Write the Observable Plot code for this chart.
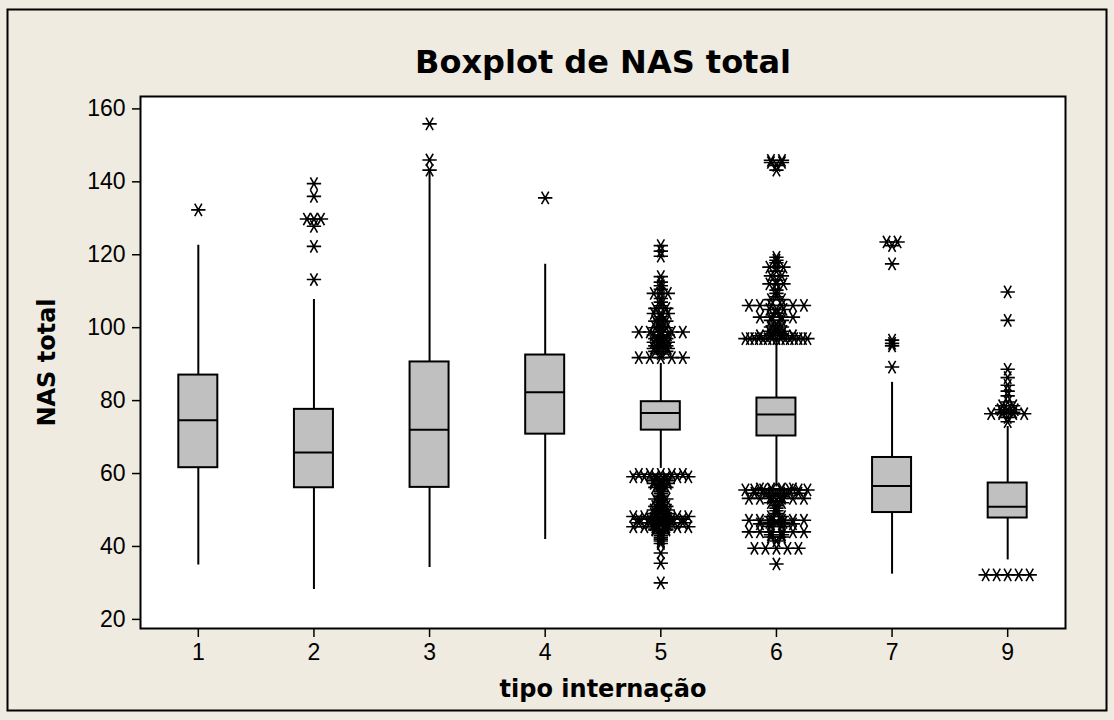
<!DOCTYPE html>
<html><head><meta charset="utf-8">
<script src="https://cdn.jsdelivr.net/npm/d3@7"></script>
<script src="https://cdn.jsdelivr.net/npm/@observablehq/plot@0.6"></script>
<style>body{margin:0;background:#efebe0;overflow:hidden;}</style>
</head><body><div id="chart"></div>
<script>
const groups = ["1", "2", "3", "4", "5", "6", "7", "9"];
const q1 = [61.6, 56.1, 56.2, 70.8, 71.9, 70.3, 49.3, 47.8];
const median = [74.6, 65.8, 72.0, 82.3, 76.6, 76.2, 56.6, 50.9];
const q3 = [87.0, 77.6, 90.6, 92.5, 79.7, 80.7, 64.4, 57.4];
const whiskerLow = [34.9, 28.2, 34.2, 41.9, 61.4, 56.3, 32.4, 36.3];
const whiskerHigh = [122.6, 107.7, 142.8, 117.4, 90.2, 97.0, 85.0, 72.9];

// outliers per group: [value, number of identical values]
const outliers1 = [[132.3, 1]];
const outliers2 = [[139.5, 1], [136, 1], [129.8, 3], [127.8, 1], [122.3, 1], [113.2, 1]];
const outliers3 = [[155.9, 1], [146, 1], [143.2, 1]];
const outliers4 = [[135.6, 1]];
const outliers5 = [
  [122.5, 1], [121, 1], [119.6, 1], [114, 1], [112.5, 1], [111.5, 1], [110.5, 1], [109.4, 3], [108, 1],
  [107, 1], [106, 1], [105.3, 2], [103.9, 3], [103, 1], [102.4, 1], [101.8, 2], [101, 1], [100.4, 1],
  [100, 2], [99.5, 1], [98.8, 5], [98, 3], [97.4, 1], [97, 2], [96.5, 1], [96, 3], [95.4, 1], [95, 2],
  [94.3, 3], [93.5, 2], [92.8, 1], [91.8, 5],
  [59.8, 5], [59.1, 6], [58.5, 2], [58, 3], [57.3, 3], [56.8, 1], [56.2, 2], [55.5, 1], [55, 1],
  [54.5, 1], [53.8, 1], [53, 2], [52.5, 1], [52, 1], [51.5, 1], [51, 2], [50.5, 1], [50, 3], [49.5, 1],
  [49, 3], [48.2, 6], [47.8, 3], [47.5, 5], [47, 3], [46.5, 5], [46, 3], [45.4, 6], [44.8, 2], [44.5, 2],
  [44, 1], [43.5, 1], [43, 1], [42.5, 1], [42, 1], [41.5, 1], [40.8, 1], [38.2, 1], [35.4, 1], [30, 1]
];
const outliers6 = [
  [145.9, 2], [145.3, 2], [144.5, 1], [143.2, 1], [119.3, 1], [118.5, 1], [117.8, 1], [116.6, 3], [115.5, 1],
  [114.2, 2], [113, 1], [112, 3], [110.3, 1], [109.4, 1], [108.5, 1], [107.7, 2], [106.1, 6], [105, 3],
  [104, 1], [102.9, 4], [102, 2], [101, 1], [100.2, 2], [99.5, 1], [99, 3], [98.3, 2], [97.8, 4], [97, 15],
  [55.8, 4], [55.5, 8], [54.6, 5], [53.8, 2], [53.2, 6], [52.5, 1], [52, 2], [51.2, 1], [50.5, 1],
  [49.8, 1], [49, 1], [48.2, 2], [47.2, 6], [46.6, 3], [46.2, 4], [45.5, 2], [44, 6], [43.2, 2],
  [42.6, 2], [41.5, 1], [39.5, 5], [35.2, 1]
];
const outliers7 = [[123.5, 2], [122.5, 1], [117.5, 1], [96.6, 1], [95.7, 1], [95, 1], [89.2, 1]];
const outliers9 = [
  [109.8, 1], [102, 1], [88.6, 1], [86.3, 1], [84.2, 1], [82.6, 1], [81.3, 1], [79.6, 1],
  [78.6, 2], [77.5, 3], [76.8, 2], [76.4, 4], [75.4, 1], [74.2, 1], [32.2, 5]
];
const outlierLists = [outliers1, outliers2, outliers3, outliers4, outliers5, outliers6, outliers7, outliers9];
const yTicks = [20, 40, 60, 80, 100, 120, 140, 160];

const W = 1114, H = 720;
const mLeft = 140, mRight = 49, mTop = 96, mBottom = 92;
const unitPx = (W - mLeft - mRight) / 8;
const halfBox = 19.5 / unitPx;

const boxes = groups.map((g, i) => ({i, q1: q1[i], med: median[i], q3: q3[i], lo: whiskerLow[i], hi: whiskerHigh[i]}));
const pts = [];
outlierLists.forEach((list, i) => {
  list.forEach(([v, n]) => {
    const step = n === 1 ? 0 : n === 3 ? 7 : Math.min(11, 62 / (n - 1));
    for (let k = 0; k < n; k++) pts.push({x: i + (k - (n - 1) / 2) * step / unitPx, y: v});
  });
});

const tickFont = "'Liberation Sans', Arial, sans-serif";
const labelFont = "'DejaVu Sans', sans-serif";
const chart = Plot.plot({
  width: W, height: H,
  marginLeft: mLeft, marginRight: mRight, marginTop: mTop, marginBottom: mBottom,
  style: {background: "#efebe0", color: "black", fontFamily: tickFont, fontSize: "23px", overflow: "visible"},
  x: {type: "linear", domain: [-0.5, 7.5]},
  y: {domain: [17.5, 163.4]},
  marks: [
    Plot.frame({fill: "white", stroke: "none"}),
    Plot.ruleX(boxes, {x: "i", y1: "lo", y2: "hi", stroke: "black", strokeWidth: 2}),
    Plot.rect(boxes, {x1: d => d.i - halfBox, x2: d => d.i + halfBox, y1: "q1", y2: "q3", fill: "#c0c0c0", stroke: "black", strokeWidth: 2}),
    Plot.ruleY(boxes, {y: "med", x1: d => d.i - halfBox, x2: d => d.i + halfBox, stroke: "black", strokeWidth: 2}),
    Plot.dot(pts, {x: "x", y: "y", symbol: "asterisk", r: 6.8, rotate: 90, stroke: "black", strokeWidth: 1.6, fill: "none"}),
    Plot.frame({stroke: "black", strokeWidth: 2}),
    Plot.axisY({ticks: yTicks, tickSize: 8, tickPadding: 7, label: null, fontSize: 23, strokeWidth: 1.5}),
    Plot.axisX({ticks: groups.map((g, i) => i), tickFormat: i => groups[i], tickSize: 9, tickPadding: 6, label: null, fontSize: 23, strokeWidth: 1.5}),
    Plot.text(["Boxplot de NAS total"], {frameAnchor: "top", lineAnchor: "middle", textAnchor: "middle", dy: -34, fontWeight: "bold", fontSize: 32, fontFamily: labelFont, fill: "black"}),
    Plot.text(["tipo internação"], {frameAnchor: "bottom", lineAnchor: "middle", textAnchor: "middle", dy: 61, fontWeight: "bold", fontSize: 24, fontFamily: labelFont, fill: "black"}),
    Plot.text(["NAS total"], {frameAnchor: "left", lineAnchor: "middle", textAnchor: "middle", dx: -93, rotate: -90, fontWeight: "bold", fontSize: 24, fontFamily: labelFont, fill: "black"})
  ]
});
d3.select(chart).append("rect")
  .attr("x", 7.5).attr("y", 9.5).attr("width", 1099).attr("height", 701)
  .attr("fill", "none").attr("stroke", "black").attr("stroke-width", 2);
document.getElementById("chart").append(chart);
</script>
</body></html>
